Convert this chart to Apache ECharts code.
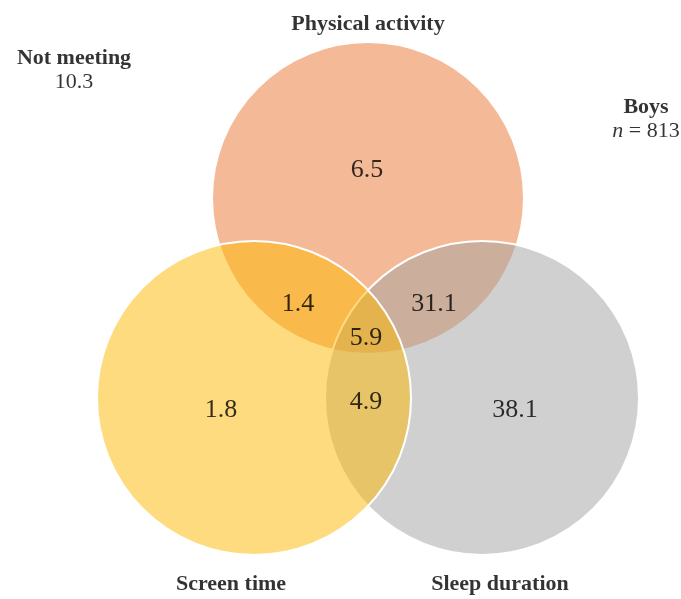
<!DOCTYPE html>
<html>
<head>
<meta charset="utf-8">
<script src="https://cdn.jsdelivr.net/npm/echarts@6/dist/echarts.min.js"></script>
<style>html,body{margin:0;padding:0;background:#fff}#c{width:681px;height:599px}</style>
</head>
<body>
<div id="c"></div>
<script>
// ---- data ----
const setNames = ['Physical activity', 'Screen time', 'Sleep duration'];
const regionNames = ['PA only', 'ST only', 'SD only', 'PA+ST', 'PA+SD', 'ST+SD', 'All three'];
const regionValues = [6.5, 1.8, 38.1, 1.4, 31.1, 4.9, 5.9];
const notMeetingLabel = 'Not meeting';
const notMeetingValue = 10.3;
const groupName = 'Boys';
const groupN = 813;

// ---- layout (pixel-like data units on hidden axes) ----
const circleLayout = [[368, 198, 156], [254, 398, 157], [482, 398, 157]]; // PA, ST, SD
const circleColors = ['#F4BA97', 'rgba(253,183,0,0.5)', 'rgba(161,161,161,0.5)'];
const drawOrder = [0, 2, 1];
const regionPos = [[367, 170], [221, 410], [515, 410], [298, 304], [434, 304], [366, 402], [366, 338]];
const setLabelPos = [[368, 24], [231, 584], [500, 584]];

const serif = '"Liberation Serif", "DejaVu Serif", serif';

const circleData = drawOrder.map(i => ({ value: circleLayout[i], idx: i }));

const labelData = [];
regionValues.forEach((v, i) => labelData.push({ value: regionPos[i], name: regionNames[i], txt: v.toFixed(1), kind: 'num' }));
setNames.forEach((s, i) => labelData.push({ value: setLabelPos[i], name: s, txt: '{b|' + s + '}', kind: 'set' }));
labelData.push({ value: [74, 70], name: notMeetingLabel, txt: '{b|' + notMeetingLabel + '}\n{r|' + notMeetingValue.toFixed(1) + '}', kind: 'nm' });
labelData.push({ value: [646, 119], name: groupName, txt: '{b|' + groupName + '}\n{i|n}{r| = ' + groupN + '}', kind: 'grp' });

const chart = echarts.init(document.getElementById('c'), null, { renderer: 'canvas' });
chart.setOption({
  animation: false,
  backgroundColor: '#ffffff',
  grid: { left: 0, right: 0, top: 0, bottom: 0 },
  xAxis: { type: 'value', min: 0, max: 681, show: false },
  yAxis: { type: 'value', min: 0, max: 599, inverse: true, show: false },
  series: [
    {
      type: 'custom',
      coordinateSystem: 'cartesian2d',
      data: circleData,
      renderItem: function (params, api) {
        const d = circleData[params.dataIndex];
        const c = api.coord([d.value[0], d.value[1]]);
        const r = api.size([d.value[2], 0])[0];
        return {
          type: 'circle',
          shape: { cx: c[0], cy: c[1], r: r },
          style: { fill: circleColors[d.idx], stroke: '#ffffff', lineWidth: 2 },
          z2: params.dataIndex
        };
      },
      silent: true
    },
    {
      type: 'scatter',
      data: labelData,
      symbolSize: 1,
      itemStyle: { color: 'transparent' },
      z: 10,
      silent: true,
      label: {
        show: true,
        position: 'inside',
        formatter: function (p) { return labelData[p.dataIndex].txt; },
        fontFamily: serif,
        fontSize: 26,
        color: '#000',
        textBorderWidth: 0,
        lineHeight: 24,
        align: 'center',
        rich: {
          b: { fontFamily: serif, fontSize: 22, fontWeight: 'bold', color: '#000', lineHeight: 24, align: 'center', textBorderWidth: 0 },
          r: { fontFamily: serif, fontSize: 22, color: '#000', lineHeight: 24, textBorderWidth: 0 },
          i: { fontFamily: serif, fontSize: 22, fontStyle: 'italic', color: '#000', lineHeight: 24, textBorderWidth: 0 }
        }
      }
    }
  ]
});
</script>
</body>
</html>
